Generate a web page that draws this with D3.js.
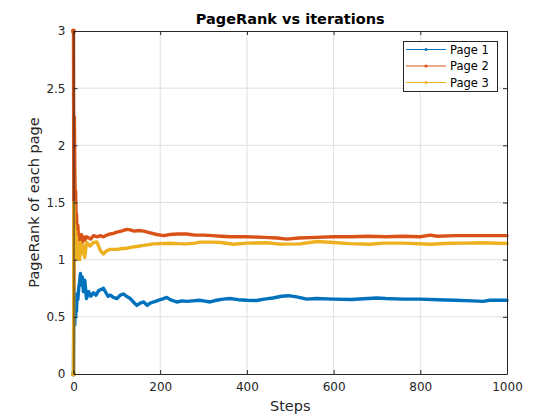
<!DOCTYPE html>
<html><head><meta charset="utf-8">
<script src="https://cdn.jsdelivr.net/npm/d3@7"></script>
<style>body{margin:0;background:#fff}svg{font-family:"DejaVu Sans",sans-serif}</style>
</head><body><svg id="c" width="560" height="420"></svg>
<script>
const seriesNames = ["Page 1", "Page 2", "Page 3"];
const seriesColors = ["#0072BD", "#D95319", "#EDB120"];
const xTicks = [0, 200, 400, 600, 800, 1000];
const yTicks = [0, 0.5, 1, 1.5, 2, 2.5, 3];

const stepsP1 = [0,1,2,3,4,5,6,7,8,10,12,14,16,18,20,23,26,30,35,40,46,52,58,64,69,75,80,85,92,100,108,115,122,131,138,146,154,162,170,177,185,192,200,208,215,223,231,238,250,261,275,290,300,315,330,345,361,380,400,422,440,460,480,496,515,538,560,600,640,680,700,720,760,800,840,880,920,945,960,1000];
const page1 = [0,0.75,0.5,0.43,0.6,0.5,0.62,0.55,0.7,0.65,0.75,0.8,0.88,0.78,0.85,0.72,0.82,0.66,0.72,0.68,0.71,0.69,0.73,0.74,0.75,0.71,0.68,0.69,0.67,0.66,0.69,0.70,0.68,0.66,0.63,0.60,0.62,0.63,0.60,0.62,0.63,0.64,0.65,0.66,0.67,0.65,0.64,0.63,0.64,0.635,0.64,0.645,0.64,0.63,0.645,0.655,0.66,0.65,0.645,0.643,0.655,0.665,0.68,0.685,0.675,0.655,0.66,0.655,0.652,0.66,0.665,0.66,0.655,0.655,0.65,0.645,0.64,0.635,0.645,0.645];

const stepsP2 = [0,1,2,3,4,5,6,7,8,10,12,14,16,18,20,23,26,30,40,46,55,62,69,80,92,100,110,123,131,140,150,162,177,192,208,223,240,261,280,300,320,340,360,400,440,470,492,520,560,600,640,680,720,760,800,823,840,880,920,960,1000];
const page2 = [3,0.75,2.25,1.8,1.5,1.6,1.35,1.4,1.25,1.3,1.15,1.2,1.12,1.22,1.15,1.2,1.17,1.2,1.18,1.21,1.2,1.21,1.2,1.22,1.23,1.24,1.25,1.265,1.26,1.25,1.255,1.25,1.235,1.22,1.21,1.22,1.225,1.225,1.215,1.215,1.21,1.205,1.2,1.2,1.195,1.19,1.18,1.19,1.195,1.2,1.2,1.205,1.2,1.205,1.2,1.215,1.205,1.21,1.21,1.21,1.21];

const stepsP3 = [0,1,2,3,4,5,6,7,8,10,12,14,16,18,20,23,26,30,38,46,54,62,69,77,85,100,108,123,135,146,162,185,200,223,240,261,280,292,320,340,369,400,446,477,523,561,600,638,684,715,760,823,868,900,940,1000];
const page3 = [0,1.5,1.0,1.3,1.05,1.25,1.0,1.2,1.05,1.15,1.1,1.0,1.15,1.05,1.1,1.12,1.02,1.15,1.12,1.15,1.155,1.08,1.05,1.08,1.09,1.09,1.095,1.1,1.11,1.115,1.125,1.138,1.14,1.144,1.14,1.138,1.145,1.153,1.153,1.15,1.135,1.145,1.148,1.136,1.138,1.159,1.15,1.14,1.135,1.145,1.145,1.135,1.143,1.145,1.148,1.142];

const allSteps = [stepsP1, stepsP2, stepsP3];
const allVals = [page1, page2, page3];

const svg = d3.select("#c");
const L = 73.5, R = 507, T = 31, B = 374;
const x = d3.scaleLinear().domain([0, 1000]).range([L, R]);
const y = d3.scaleLinear().domain([0, 3]).range([B, T]);
const axisCol = "#262626";

// grid
svg.append("g").selectAll("line.gx").data(xTicks.slice(1, -1)).join("line")
  .attr("x1", d => x(d)).attr("x2", d => x(d)).attr("y1", T).attr("y2", B)
  .attr("stroke", "#dfdfdf").attr("stroke-width", 1);
svg.append("g").selectAll("line.gy").data(yTicks.slice(1, -1)).join("line")
  .attr("y1", d => y(d)).attr("y2", d => y(d)).attr("x1", L).attr("x2", R)
  .attr("stroke", "#dfdfdf").attr("stroke-width", 1);

// lines
const line = d3.line().x(d => x(d[0])).y(d => y(d[1]));
allVals.forEach((vals, i) => {
  const pts = vals.map((v, k) => [allSteps[i][k], v]);
  svg.append("path").datum(pts).attr("d", line)
    .attr("fill", "none").attr("stroke", seriesColors[i])
    .attr("stroke-width", 3.4).attr("stroke-linejoin", "round").attr("stroke-linecap", "round");
  svg.append("path").datum(pts.slice(0, 2)).attr("d", line)
    .attr("fill", "none").attr("stroke", seriesColors[i]).attr("stroke-width", 1.2);
  svg.append("circle").attr("cx", x(pts[0][0])).attr("cy", y(pts[0][1])).attr("r", 2.5)
    .attr("fill", seriesColors[i]);
});

// axes
const fmt = d => String(d);
const gx = svg.append("g").attr("transform", `translate(0,${B})`)
  .call(d3.axisBottom(x).tickValues(xTicks).tickFormat(fmt).tickSizeInner(-4).tickSizeOuter(0).tickPadding(8));
const gxt = svg.append("g").attr("transform", `translate(0,${T})`)
  .call(d3.axisTop(x).tickValues(xTicks).tickFormat("").tickSizeInner(-4).tickSizeOuter(0));
const gy = svg.append("g").attr("transform", `translate(${L},0)`)
  .call(d3.axisLeft(y).tickValues(yTicks).tickFormat(fmt).tickSizeInner(-4).tickSizeOuter(0).tickPadding(8));
const gyr = svg.append("g").attr("transform", `translate(${R},0)`)
  .call(d3.axisRight(y).tickValues(yTicks).tickFormat("").tickSizeInner(-4).tickSizeOuter(0));
[gx, gxt, gy, gyr].forEach(g => {
  g.select(".domain").attr("stroke", axisCol).attr("stroke-width", 1);
  g.selectAll(".tick line").attr("stroke", axisCol);
  g.selectAll("text").attr("fill", axisCol).attr("font-size", 12).attr("font-family", "DejaVu Sans, sans-serif");
});

// title & labels
svg.append("text").attr("x", (L + R) / 2).attr("y", 24).attr("text-anchor", "middle")
  .attr("font-size", 14.5).attr("font-weight", "bold").attr("fill", "#000").text("PageRank vs iterations");
svg.append("text").attr("x", (L + R) / 2).attr("y", 411).attr("text-anchor", "middle")
  .attr("font-size", 14.5).attr("fill", axisCol).text("Steps");
svg.append("text").attr("transform", `translate(38.5,${(T + B) / 2}) rotate(-90)`).attr("text-anchor", "middle")
  .attr("font-size", 14.5).attr("fill", axisCol).text("PageRank of each page");

// legend
const lg = svg.append("g");
lg.append("rect").attr("x", 403.5).attr("y", 41.5).attr("width", 94).attr("height", 50)
  .attr("fill", "#fff").attr("stroke", axisCol).attr("stroke-width", 1);
seriesNames.forEach((n, i) => {
  const yy = 49.5 + i * 16.5;
  lg.append("line").attr("x1", 406).attr("x2", 446).attr("y1", yy).attr("y2", yy)
    .attr("stroke", seriesColors[i]).attr("stroke-width", 1);
  lg.append("circle").attr("cx", 426).attr("cy", yy).attr("r", 1.6).attr("fill", seriesColors[i]);
  lg.append("text").attr("x", 450).attr("y", yy + 4).attr("font-size", 11.5).attr("fill", "#000").text(n);
});
</script></body></html>
